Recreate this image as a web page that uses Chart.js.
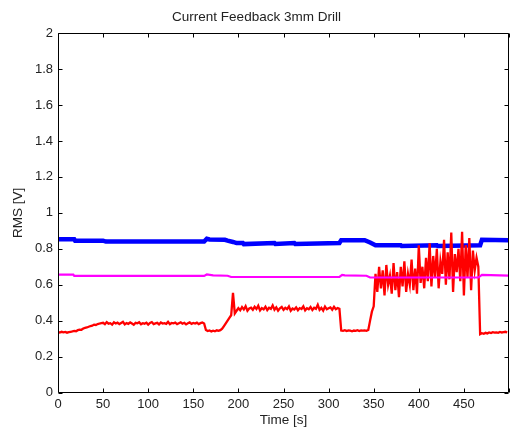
<!DOCTYPE html>
<html>
<head>
<meta charset="utf-8">
<script src="https://cdn.jsdelivr.net/npm/chart.js@4.4.1/dist/chart.umd.min.js"></script>
<style>
  html, body { margin: 0; padding: 0; background: #fff; overflow: hidden; }
  #wrap { position: relative; width: 513px; height: 430px; }
</style>
</head>
<body>
<div id="wrap"><canvas id="c"></canvas></div>
<script>
// ---- Data ----
const chartTitle = 'Current Feedback 3mm Drill';
const xTitle = 'Time [s]';
const yTitle = 'RMS [V]';
const xTicks = [0, 50, 100, 150, 200, 250, 300, 350, 400, 450, 500];
const yTicks = [0, 0.2, 0.4, 0.6, 0.8, 1, 1.2, 1.4, 1.6, 1.8, 2];

// Blue series (time [s], RMS [V])
const blueTime = [0, 18, 19, 50, 53, 162, 165, 168, 185, 188, 194, 198, 205, 206, 240, 241, 262, 263, 312, 314, 340, 346, 352, 380, 381, 420, 421, 468, 470, 500];
const blueRms  = [0.853, 0.853, 0.845, 0.845, 0.840, 0.840, 0.856, 0.852, 0.850, 0.845, 0.838, 0.832, 0.832, 0.826, 0.832, 0.827, 0.832, 0.827, 0.832, 0.848, 0.848, 0.835, 0.820, 0.820, 0.815, 0.820, 0.815, 0.820, 0.850, 0.848];

// Magenta series
const magentaTime = [0, 17, 18, 162, 165, 172, 188, 192, 312, 315, 318, 342, 346, 466, 470, 500];
const magentaRms  = [0.656, 0.656, 0.649, 0.649, 0.657, 0.652, 0.650, 0.643, 0.643, 0.655, 0.652, 0.650, 0.640, 0.640, 0.655, 0.651];

// Red series, sampled every 2 s from t = 0 s
const redSampleStep = 2;
const redRms = [
  0.336,0.334,0.338,0.335,0.337,0.333,0.336,0.338,
  0.340,0.343,0.341,0.347,0.350,0.349,0.356,0.360,0.362,0.366,0.370,0.372,0.378,0.376,0.381,0.384,0.386,
  0.388,0.380,0.392,0.383,0.386,0.378,0.391,0.384,0.389,0.381,
  0.387,0.393,0.379,0.386,0.382,0.390,0.384,0.377,0.388,0.385,
  0.391,0.380,0.386,0.383,0.389,0.378,0.387,0.392,0.381,0.385,
  0.388,0.379,0.390,0.384,0.386,0.382,0.393,0.380,0.387,0.385,
  0.389,0.381,0.386,0.391,0.383,0.388,0.379,0.385,0.390,0.382,
  0.387,0.384,0.389,0.381,0.386,0.390,0.384,
  0.348,0.342,0.345,0.340,0.344,0.341,0.346,0.343,0.347,
  0.355,0.370,0.385,0.400,0.415,0.430,
  0.555,
  0.440,0.455,
  0.470,0.458,0.475,0.462,0.480,0.455,0.468,0.472,0.460,0.477,
  0.465,0.483,0.457,0.470,0.463,0.478,0.459,0.472,0.466,0.485,
  0.461,0.474,0.456,0.469,0.476,0.460,0.471,0.464,0.479,0.455,
  0.468,0.462,0.474,0.458,0.470,0.465,0.480,0.457,0.469,0.463,
  0.476,0.459,0.472,0.466,0.488,0.460,0.471,0.456,0.478,0.463,
  0.469,0.474,0.461,0.477,0.464,0.470,0.466,
  0.345,0.343,0.347,0.342,0.346,0.344,0.341,0.345,0.343,0.347,0.342,0.345,0.344,0.346,0.343,0.348,
  0.400,0.450,0.480,
  0.66,0.56,0.70,0.58,0.68,0.54,0.71,0.60,0.65,0.55,
  0.72,0.57,0.67,0.53,0.70,0.59,0.73,0.56,0.66,0.60,
  0.74,0.57,0.69,0.55,0.82,0.61,0.70,0.58,0.75,0.62,
  0.83,0.59,0.76,0.64,0.80,0.58,0.73,0.66,0.85,0.60,
  0.78,0.63,0.89,0.56,0.77,0.67,0.80,0.62,0.895,0.54,
  0.82,0.64,0.86,0.57,0.79,0.68,0.75,0.70,
  0.325,0.330,0.327,0.332,0.329,0.334,0.331,0.336,0.333,0.335,0.332,0.337,0.334,0.336,0.338,0.335
];

// ---- Build datasets ----
const toXY = (xs, ys) => xs.map((x, i) => ({ x: x, y: ys[i] }));
const redPoints = redRms.map((v, i) => ({ x: i * redSampleStep, y: v }));

const FONT = "'Liberation Sans', Arial, Helvetica, sans-serif";
const TXT = '#222222';

const frameTicks = {
  id: 'frameTicks',
  afterDatasetsDraw(chart) {
    const { ctx, chartArea: a, scales: { x, y } } = chart;
    ctx.save();
    ctx.strokeStyle = '#000';
    ctx.lineWidth = 1;
    const L = Math.round(a.left) + 0.5, R = Math.round(a.right) - 0.5;
    const T = Math.round(a.top) + 0.5, B = Math.round(a.bottom) - 0.5;
    ctx.beginPath();
    ctx.rect(L, T, R - L, B - T);
    const len = 4;
    xTicks.forEach(v => {
      const px = Math.round(x.getPixelForValue(v)) + 0.5;
      ctx.moveTo(px, B); ctx.lineTo(px, B - len);
      ctx.moveTo(px, T); ctx.lineTo(px, T + len);
    });
    yTicks.forEach(v => {
      const py = Math.round(y.getPixelForValue(v)) + 0.5;
      ctx.moveTo(L, py); ctx.lineTo(L + len, py);
      ctx.moveTo(R, py); ctx.lineTo(R - len, py);
    });
    ctx.stroke();
    ctx.restore();
  }
};

new Chart(document.getElementById('c'), {
  type: 'line',
  data: {
    datasets: [
      { label: 'magenta', data: toXY(magentaTime, magentaRms), borderColor: '#ff00ff', borderWidth: 2.2, pointRadius: 0, tension: 0 },
      { label: 'red', data: redPoints, borderColor: '#ff0000', borderWidth: 2.3, pointRadius: 0, tension: 0 },
      { label: 'blue', data: toXY(blueTime, blueRms), borderColor: '#0000ff', borderWidth: 4.5, pointRadius: 0, tension: 0 }
    ]
  },
  options: {
    responsive: true,
    maintainAspectRatio: false,
    animation: false,
    events: [],
    layout: { padding: { left: 0, right: 0, top: 0, bottom: 0 } },
    plugins: {
      legend: { display: false },
      tooltip: { enabled: false },
      title: {
        display: true,
        text: chartTitle,
        color: TXT,
        font: { family: FONT, size: 13.5, weight: 'normal' },
        padding: { top: 9, bottom: 8 }
      }
    },
    scales: {
      x: {
        type: 'linear',
        min: 0,
        max: 500,
        grid: { display: false, drawTicks: false },
        border: { display: false },
        afterBuildTicks(s) { s.ticks = xTicks.map(v => ({ value: v })); },
        afterFit(s) { s.height = 37.5; },
        ticks: {
          color: TXT,
          font: { family: FONT, size: 13 },
          padding: 4,
          maxRotation: 0,
          autoSkip: false,
          callback: v => (v === 500 ? '' : String(v))
        },
        title: { display: true, text: xTitle, color: TXT, font: { family: FONT, size: 13.5 }, padding: { top: 0, bottom: 2 } }
      },
      y: {
        type: 'linear',
        min: 0,
        max: 2,
        grid: { display: false, drawTicks: false },
        border: { display: false },
        afterBuildTicks(s) { s.ticks = yTicks.map(v => ({ value: v })); },
        afterFit(s) { s.width = 58; },
        ticks: {
          color: TXT,
          font: { family: FONT, size: 13 },
          padding: 5,
          autoSkip: false,
          callback: v => String(+Number(v).toFixed(1))
        },
        title: { display: true, text: yTitle, color: TXT, font: { family: FONT, size: 13.5 }, padding: { top: 10, bottom: 0 } }
      }
    }
  },
  plugins: [frameTicks]
});
</script>
</body>
</html>
